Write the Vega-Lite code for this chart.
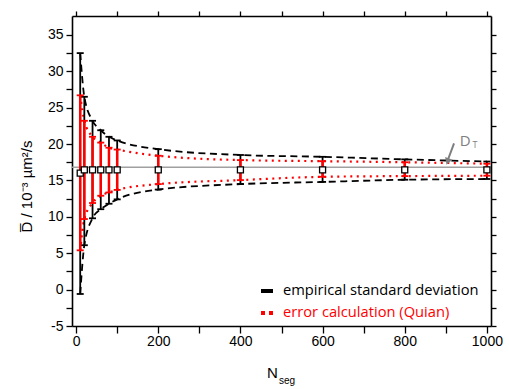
{
  "$schema": "https://vega.github.io/schema/vega-lite/v6.json",
  "width": 419,
  "height": 310,
  "autosize": {"type": "none"},
  "padding": {"left": 72, "top": 16, "right": 18, "bottom": 63},
  "background": "white",
  "config": {
    "view": {"stroke": null},
    "axis": {"grid": false, "domainColor": "black", "domainWidth": 1.6, "tickColor": "black", "tickWidth": 1.3,
      "labelFont": "Liberation Sans", "labelFontSize": 14, "labelColor": "black",
      "titleFont": "Liberation Sans", "titleColor": "black", "titleFontWeight": "normal"}
  },
  "datasets": {
    "bars": [
      {"N": 10, "series": "empirical standard deviation", "lo": -0.6, "hi": 32.5},
      {"N": 20, "series": "empirical standard deviation", "lo": 6.1, "hi": 26.5},
      {"N": 40, "series": "empirical standard deviation", "lo": 9.8, "hi": 23.2},
      {"N": 60, "series": "empirical standard deviation", "lo": 11.05, "hi": 21.9},
      {"N": 80, "series": "empirical standard deviation", "lo": 11.8, "hi": 21.0},
      {"N": 100, "series": "empirical standard deviation", "lo": 12.4, "hi": 20.5},
      {"N": 200, "series": "empirical standard deviation", "lo": 13.75, "hi": 19.3},
      {"N": 400, "series": "empirical standard deviation", "lo": 14.5, "hi": 18.5},
      {"N": 600, "series": "empirical standard deviation", "lo": 14.8, "hi": 18.25},
      {"N": 800, "series": "empirical standard deviation", "lo": 15.1, "hi": 17.9},
      {"N": 1000, "series": "empirical standard deviation", "lo": 15.2, "hi": 17.6},
      {"N": 10, "series": "error calculation (Quian)", "lo": 5.4, "hi": 26.7},
      {"N": 20, "series": "error calculation (Quian)", "lo": 9.7, "hi": 23.2},
      {"N": 40, "series": "error calculation (Quian)", "lo": 11.9, "hi": 21.0},
      {"N": 60, "series": "error calculation (Quian)", "lo": 12.9, "hi": 20.2},
      {"N": 80, "series": "error calculation (Quian)", "lo": 13.35, "hi": 19.5},
      {"N": 100, "series": "error calculation (Quian)", "lo": 13.7, "hi": 19.25},
      {"N": 200, "series": "error calculation (Quian)", "lo": 14.5, "hi": 18.4},
      {"N": 400, "series": "error calculation (Quian)", "lo": 15.05, "hi": 17.8},
      {"N": 600, "series": "error calculation (Quian)", "lo": 15.5, "hi": 17.65},
      {"N": 800, "series": "error calculation (Quian)", "lo": 15.6, "hi": 17.5},
      {"N": 1000, "series": "error calculation (Quian)", "lo": 15.65, "hi": 17.3}
    ],
    "means": [
      {"N": 10, "D": 16.0}, {"N": 20, "D": 16.45}, {"N": 40, "D": 16.45}, {"N": 60, "D": 16.45},
      {"N": 80, "D": 16.45}, {"N": 100, "D": 16.45}, {"N": 200, "D": 16.45}, {"N": 400, "D": 16.45},
      {"N": 600, "D": 16.45}, {"N": 800, "D": 16.45}, {"N": 1000, "D": 16.45}
    ],
    "ref": [{"D": 16.8}],
    "arrow": [{"x": 920, "y": 20.1}, {"x": 905.5, "y": 17.9}],
    "head": [{"x": 904.5, "y": 17.6}],
    "labels": [{"text": "D", "x": 947, "y": 19.75}, {"text": "T", "x": 971, "y": 19.4}]
  },
  "layer": [
    {
      "data": {"name": "ref"},
      "mark": {"type": "rule", "color": "#a0a0a0", "strokeWidth": 1.5},
      "encoding": {
        "y": {"field": "D", "type": "quantitative", "scale": {"domain": [-5, 37.6], "nice": false, "zero": false}, "axis": null}
      }
    },
    {
      "data": {"name": "bars"},
      "transform": [{"filter": "datum.N === 1000"}],
      "mark": {"type": "line", "strokeWidth": 4},
      "encoding": {
        "x": {"field": "N", "type": "quantitative", "scale": {"domain": [-10, 1010], "nice": false, "zero": false}, "axis": null},
        "y": {"field": "hi", "type": "quantitative", "axis": null},
        "color": {"field": "series", "type": "nominal",
          "scale": {"domain": ["empirical standard deviation", "error calculation (Quian)"], "range": ["#000000", "#ff0000"]},
          "legend": {"orient": "none", "legendX": 187, "legendY": 267, "title": null,
            "symbolType": "stroke", "symbolSize": 144, "symbolStrokeWidth": 4,
            "labelFont": "Open Sans", "labelFontSize": 14.7, "labelOffset": 8, "rowPadding": 6, "labelLimit": 0,
            "labelColor": {"expr": "datum.value === 'error calculation (Quian)' ? '#ff0000' : '#000000'"}}
        },
        "strokeDash": {"field": "series", "type": "nominal",
          "scale": {"domain": ["empirical standard deviation", "error calculation (Quian)"], "range": [[12, 0], [4, 4]]},
          "legend": {"orient": "none", "legendX": 187, "legendY": 267, "title": null,
            "symbolType": "stroke", "symbolSize": 144, "symbolStrokeWidth": 4,
            "labelFont": "Open Sans", "labelFontSize": 14.7, "labelOffset": 8, "rowPadding": 6, "labelLimit": 0}
        }
      }
    },
    {
      "data": {"name": "bars"},
      "transform": [{"filter": "datum.series === 'empirical standard deviation'"}, {"fold": ["lo", "hi"], "as": ["bound", "value"]}],
      "mark": {"type": "line", "interpolate": "monotone", "color": "#000000", "strokeDash": [7, 4.5], "strokeWidth": 1.8},
      "encoding": {
        "x": {"field": "N", "type": "quantitative", "axis": null},
        "y": {"field": "value", "type": "quantitative", "axis": null},
        "detail": {"field": "bound"}
      }
    },
    {
      "data": {"name": "bars"},
      "transform": [{"filter": "datum.series === 'error calculation (Quian)'"}, {"fold": ["lo", "hi"], "as": ["bound", "value"]}],
      "mark": {"type": "line", "interpolate": "monotone", "color": "#ff0000", "strokeDash": [2, 4.5], "strokeWidth": 2.2},
      "encoding": {
        "x": {"field": "N", "type": "quantitative", "axis": null},
        "y": {"field": "value", "type": "quantitative", "axis": null},
        "detail": {"field": "bound"}
      }
    },
    {
      "data": {"name": "bars"},
      "transform": [{"filter": "datum.series === 'empirical standard deviation'"}],
      "mark": {"type": "rule", "color": "#000000", "strokeWidth": 1.8},
      "encoding": {
        "x": {"field": "N", "type": "quantitative", "axis": null},
        "y": {"field": "lo", "type": "quantitative", "axis": null},
        "y2": {"field": "hi"}
      }
    },
    {
      "data": {"name": "bars"},
      "transform": [{"filter": "datum.series === 'empirical standard deviation'"}, {"fold": ["lo", "hi"], "as": ["bound", "value"]}],
      "mark": {"type": "tick", "orient": "horizontal", "color": "#000000", "thickness": 1.8, "size": 7, "opacity": 1},
      "encoding": {
        "x": {"field": "N", "type": "quantitative", "axis": null},
        "y": {"field": "value", "type": "quantitative", "axis": null}
      }
    },
    {
      "data": {"name": "bars"},
      "transform": [{"filter": "datum.series === 'error calculation (Quian)'"}],
      "mark": {"type": "rule", "color": "#ff0000", "strokeWidth": 2.5},
      "encoding": {
        "x": {"field": "N", "type": "quantitative", "axis": null},
        "y": {"field": "lo", "type": "quantitative", "axis": null},
        "y2": {"field": "hi"}
      }
    },
    {
      "data": {"name": "bars"},
      "transform": [{"filter": "datum.series === 'error calculation (Quian)'"}, {"fold": ["lo", "hi"], "as": ["bound", "value"]}],
      "mark": {"type": "tick", "orient": "horizontal", "color": "#ff0000", "thickness": 1.8, "size": 7, "opacity": 1},
      "encoding": {
        "x": {"field": "N", "type": "quantitative", "axis": null},
        "y": {"field": "value", "type": "quantitative", "axis": null}
      }
    },
    {
      "data": {"name": "means"},
      "mark": {"type": "point", "shape": "square", "filled": false, "fill": "white", "fillOpacity": 1, "stroke": "black", "strokeWidth": 1.3, "size": 36, "opacity": 1},
      "encoding": {
        "x": {"field": "N", "type": "quantitative",
          "axis": {"orient": "bottom", "values": [0, 100, 200, 300, 400, 500, 600, 700, 800, 900, 1000],
            "labelExpr": "datum.value % 200 === 0 ? toString(datum.value) : ''",
            "tickSize": 7, "labelPadding": 1, "labelFlush": false, "labelOverlap": false,
            "title": "N", "titleX": 200, "titleY": 51, "titleAlign": "center", "titleBaseline": "alphabetic", "titleFontSize": 15,
            "encode": {"ticks": {"y2": {"condition": {"test": "datum.value % 200 === 0", "value": 7}, "value": 5}}}}},
        "y": {"field": "D", "type": "quantitative",
          "axis": {"orient": "left", "values": [-5, -2.5, 0, 2.5, 5, 7.5, 10, 12.5, 15, 17.5, 20, 22.5, 25, 27.5, 30, 32.5, 35],
            "labelExpr": "datum.value % 5 === 0 ? toString(datum.value) : ''",
            "tickSize": 6, "labelPadding": 3, "labelFlush": false, "labelOverlap": false,
            "title": "D̅ / 10⁻³ µm²/s", "titleX": -41, "titleY": 170, "titleAngle": 270, "titleAlign": "center", "titleBaseline": "alphabetic", "titleFontSize": 15,
            "encode": {"ticks": {"x2": {"condition": {"test": "datum.value % 5 === 0", "value": -6}, "value": -4}}}}}
      }
    },
    {
      "data": {"name": "arrow"},
      "mark": {"type": "line", "color": "#7f7f7f", "strokeWidth": 2},
      "encoding": {
        "x": {"field": "x", "type": "quantitative",
          "axis": {"orient": "top", "values": [0, 100, 200, 300, 400, 500, 600, 700, 800, 900, 1000], "labels": false,
            "title": "seg", "titleX": 214.5, "titleY": 367, "titleAlign": "center", "titleBaseline": "alphabetic", "titleFontSize": 10, "titleAngle": 0,
            "encode": {"ticks": {"y2": {"condition": {"test": "datum.value % 200 === 0", "value": 6}, "value": 4}}}}},
        "y": {"field": "y", "type": "quantitative",
          "axis": {"orient": "right", "values": [-5, -2.5, 0, 2.5, 5, 7.5, 10, 12.5, 15, 17.5, 20, 22.5, 25, 27.5, 30, 32.5, 35], "labels": false, "title": null,
            "encode": {"ticks": {"x2": {"condition": {"test": "datum.value % 5 === 0", "value": -6}, "value": -4}}}}}
      }
    },
    {
      "data": {"name": "head"},
      "mark": {"type": "point", "shape": "triangle-down", "filled": true, "color": "#7f7f7f", "size": 60, "angle": 20, "opacity": 1},
      "encoding": {
        "x": {"field": "x", "type": "quantitative", "axis": null},
        "y": {"field": "y", "type": "quantitative", "axis": null}
      }
    },
    {
      "data": {"name": "labels"},
      "transform": [{"filter": "datum.text === 'D'"}],
      "mark": {"type": "text", "font": "Open Sans", "fontSize": 15, "color": "#7f7f7f", "align": "center", "baseline": "alphabetic"},
      "encoding": {
        "x": {"field": "x", "type": "quantitative", "axis": null},
        "y": {"field": "y", "type": "quantitative", "axis": null},
        "text": {"field": "text"}
      }
    },
    {
      "data": {"name": "labels"},
      "transform": [{"filter": "datum.text === 'T'"}],
      "mark": {"type": "text", "font": "Open Sans", "fontSize": 9, "color": "#7f7f7f", "align": "center", "baseline": "alphabetic"},
      "encoding": {
        "x": {"field": "x", "type": "quantitative", "axis": null},
        "y": {"field": "y", "type": "quantitative", "axis": null},
        "text": {"field": "text"}
      }
    }
  ]
}
